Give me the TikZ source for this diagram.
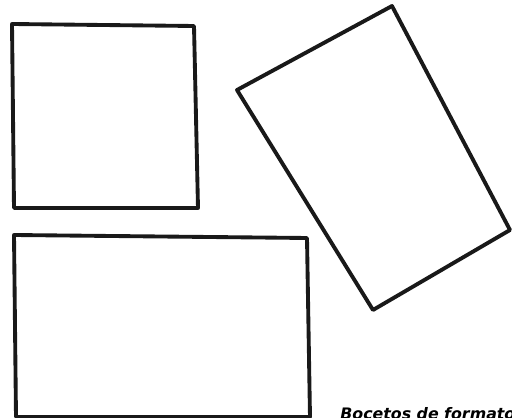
\documentclass[tikz,border=0pt]{standalone}
\usepackage{fontspec}
\newfontfamily\captionfont{DejaVu Sans}
\usetikzlibrary{positioning}

\begin{document}
\begin{tikzpicture}[x=0.02cm, y=-0.02cm,
          sketch/.style={draw=black!90, line width=2.2pt, line join=round}]
        \useasboundingbox (0,0) rectangle (512,418);

        % square
        \draw[sketch] (12,24) -- (194,26) -- (198,208) -- (14,208) -- cycle;
        % tilted sheet
        \draw[sketch] (237,90) -- (392,6) -- (510,230) -- (373,310) -- cycle;
        % landscape
        \draw[sketch] (14,235) -- (307,238) -- (310,417) -- (16,417) -- cycle;

        \node[anchor=base west, inner sep=0pt, font=\captionfont\bfseries\itshape\fontsize{9}{10}\selectfont] (caption) at (340,420) {Bocetos de formato};
      \end{tikzpicture}
\end{document}
